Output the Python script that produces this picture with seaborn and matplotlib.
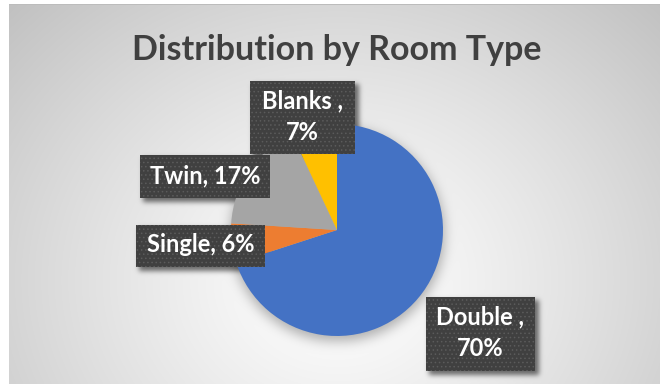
import numpy as np
import matplotlib
matplotlib.use("Agg")
import matplotlib.pyplot as plt
from matplotlib.patches import Rectangle
import seaborn as sns

# ---- data ----
room_types = ["Double", "Single", "Twin", "Blanks"]
shares = [70, 6, 17, 7]
label_seps = [" ,\n", ", ", ", ", " ,\n"]
slice_colors = ["#4472C4", "#ED7D31", "#A5A5A5", "#FFC000"]
title = "Distribution by Room Type"

sns.set_theme(style="white")
plt.rcParams["font.family"] = ["Lato", "DejaVu Sans"]
plt.rcParams["hatch.color"] = "#5b5b5b"
plt.rcParams["hatch.linewidth"] = 0.6

W, H = 660, 384
fig = plt.figure(figsize=(W / 100, H / 100), dpi=100)
ax = fig.add_axes([0, 0, 1, 1])

# layout (pixel units, y measured from the top)
pie_cx, pie_cy, pie_r = 337, 230, 106
boxes = {  # x0, y0, x1, y1
    "Double": (426, 297, 535, 371),
    "Single": (136, 225, 265, 267),
    "Twin": (140, 155, 270, 198),
    "Blanks": (250, 81, 355, 154),
}
chart_x0, chart_y0 = 9, 4


def blur(img, sigma):
    rad = int(3 * sigma)
    k = np.exp(-0.5 * (np.arange(-rad, rad + 1) / sigma) ** 2)
    k /= k.sum()
    out = np.apply_along_axis(lambda r: np.convolve(r, k, mode="same"), 1, img)
    out = np.apply_along_axis(lambda c: np.convolve(c, k, mode="same"), 0, out)
    return out


# radial gradient background of the chart area
yy, xx = np.mgrid[0:H, 0:W].astype(float)
gx, gy = 337, 280
dist = np.hypot((xx - gx) / 1.15, yy - gy)
dist /= dist.max()
bg = 1.0 - 0.25 * np.clip(dist, 0, 1) ** 1.2

# soft shadows under the pie and the label boxes
shadow = np.zeros((H, W))
shadow += 0.30 * ((xx - pie_cx) ** 2 + (yy - (pie_cy + 4)) ** 2 <= (pie_r + 1) ** 2)
pie_sh = blur(shadow, 6.0)
box_mask = np.zeros((H, W))
for (x0, y0, x1, y1) in boxes.values():
    box_mask[int(y0 + 3):int(y1 + 4), int(x0 + 3):int(x1 + 4)] = 0.55
box_sh = blur(box_mask, 2.5)
bg = bg * (1 - pie_sh) * (1 - box_sh)

# page margin and chart-area border
bg[:chart_y0, :] = 1.0
bg[:, :chart_x0] = 1.0
bg[chart_y0, chart_x0:] = 0.74
rgb = np.dstack([bg, bg, bg])
ax.imshow(rgb, extent=(0, W, 0, H), origin="upper", interpolation="bilinear", zorder=0)

# pie: starts at 12 o'clock and runs clockwise
ax.pie(shares, colors=slice_colors, startangle=90, counterclock=False,
       center=(pie_cx, H - pie_cy), radius=pie_r, frame=True,
       wedgeprops=dict(linewidth=0, zorder=2))

# data labels in dark patterned boxes
for cat, val, sep in zip(room_types, shares, label_seps):
    x0, y0, x1, y1 = boxes[cat]
    ax.add_patch(Rectangle((x0, H - y1), x1 - x0, y1 - y0, facecolor="#404040",
                           edgecolor="#5b5b5b", linewidth=0, hatch="....", zorder=4))
    ax.text((x0 + x1) / 2, H - (y0 + y1) / 2 + 1, f"{cat}{sep}{val}%",
            ha="center", va="center", ma="center", color="white",
            fontsize=17, fontweight="bold", linespacing=1.45, zorder=5)

ax.text(337, H - 50, title, ha="center", va="center", fontsize=24.5,
        fontweight="bold", color="#404040", zorder=5)

ax.set_xlim(0, W)
ax.set_ylim(0, H)
ax.set_aspect("auto")
ax.axis("off")

fig.savefig("out.png", dpi=100)
